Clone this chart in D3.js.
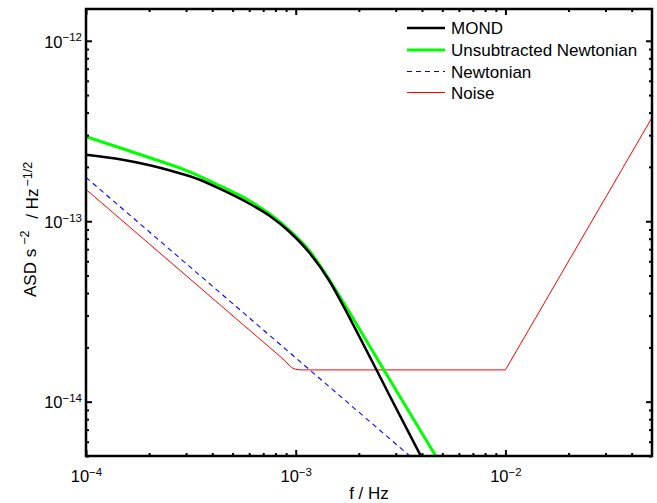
<!DOCTYPE html>
<html>
<head>
<meta charset="utf-8">
<script src="https://cdn.jsdelivr.net/npm/d3@7"></script>
<style>
  body { margin: 0; background: #fff; }
  text { font-family: "Liberation Sans", Arial, Helvetica, sans-serif; }
</style>
</head>
<body>
<div class="chart_box"></div>
<script>
// frequencies (Hz) and amplitude spectral densities
var mondF   = [1.0e-4, 1.451e-4, 2.015e-4, 2.593e-4, 3.484e-4, 4.338e-4, 6.022e-4, 7.499e-4, 9.333e-4, 1.162e-3, 1.446e-3, 1.704e-3, 1.944e-3, 2.454e-3, 2.790e-3, 3.949e-3];
var mondV   = [2.336e-13, 2.206e-13, 2.042e-13, 1.892e-13, 1.698e-13, 1.514e-13, 1.250e-13, 1.073e-13, 8.745e-14, 6.69e-14, 4.68e-14, 3.318e-14, 2.474e-14, 1.466e-14, 1.093e-14, 5.0e-15];

var unsubF  = [1.0e-4, 1.451e-4, 2.015e-4, 3.022e-4, 4.338e-4, 6.022e-4, 7.499e-4, 9.333e-4, 1.162e-3, 1.446e-3, 1.704e-3, 2.009e-3, 2.612e-3, 2.946e-3, 4.651e-3];
var unsubV  = [2.938e-13, 2.554e-13, 2.248e-13, 1.905e-13, 1.573e-13, 1.299e-13, 1.100e-13, 8.915e-14, 6.86e-14, 4.74e-14, 3.49e-14, 2.537e-14, 1.523e-14, 1.205e-14, 5.0e-15];

var newtF   = [1.0e-4, 1.0e-3, 3.5e-3];
var newtV   = [1.75e-13, 1.75e-14, 5.0e-15];

var noiseF  = [1.0e-4, 8.5e-4, 9.0e-4, 9.4e-4, 9.7e-4, 1.0e-3, 1.05e-3, 1.0e-2, 5.0e-2];
var noiseV  = [1.5e-13, 1.765e-14, 1.655e-14, 1.575e-14, 1.53e-14, 1.51e-14, 1.5e-14, 1.5e-14, 3.75e-13];

var seriesNames = ["MOND", "Unsubtracted Newtonian", "Newtonian", "Noise"];
var xMajor = [-4, -3, -2];        // decade exponents
var yMajor = [-14, -13, -12];

var width = 657, height = 503;
var mLeft = 86, mRight = 652, mTop = 9, mBottom = 456;

var x = d3.scaleLog().domain([1e-4, 5e-2]).range([mLeft, mRight]);
var y = d3.scaleLog().domain([5e-15, 1.5e-12]).range([mBottom, mTop]);

function zip(fs, vs) { return fs.map(function(f, i) { return {f: f, v: vs[i]}; }); }

var series = [
  {name: seriesNames[0], pts: zip(mondF, mondV),   color: "#000000", w: 2.5, dash: null, curve: d3.curveMonotoneX},
  {name: seriesNames[1], pts: zip(unsubF, unsubV), color: "#00ff00", w: 3,   dash: null, curve: d3.curveMonotoneX},
  {name: seriesNames[2], pts: zip(newtF, newtV),   color: "#0000ff", w: 1.1, dash: "5,4", curve: d3.curveLinear},
  {name: seriesNames[3], pts: zip(noiseF, noiseV), color: "#ff0000", w: 1,   dash: null, curve: d3.curveLinear}
];

var svg = d3.select(".chart_box").append("svg")
  .attr("width", width).attr("height", height);

svg.append("defs").append("clipPath").attr("id", "plot")
  .append("rect").attr("x", mLeft).attr("y", mTop)
  .attr("width", mRight - mLeft).attr("height", mBottom - mTop);

// draw back to front: noise, newtonian, unsubtracted, mond
var lines = svg.append("g").attr("clip-path", "url(#plot)");
series.slice().reverse().forEach(function(s) {
  var line = d3.line().x(d => x(d.f)).y(d => y(d.v)).curve(s.curve);
  lines.append("path")
    .attr("d", line(s.pts))
    .attr("fill", "none")
    .attr("stroke", s.color)
    .attr("stroke-width", s.w)
    .attr("stroke-dasharray", s.dash);
});

// minor tick values
function minors(scale) {
  var d = scale.domain(), out = [];
  var lo = Math.floor(Math.log10(d[0])), hi = Math.ceil(Math.log10(d[1]));
  for (var k = lo; k < hi; k++)
    for (var m = 2; m <= 9; m++) {
      var v = m * Math.pow(10, k);
      if (v > d[0] && v < d[1]) out.push(v);
    }
  return out;
}
var xMaj = xMajor.map(e => Math.pow(10, e));
var yMaj = yMajor.map(e => Math.pow(10, e));

function tickGroup(axis, transform) {
  var g = svg.append("g").attr("transform", transform).call(axis);
  g.select(".domain").remove();
  g.selectAll("line").attr("stroke", "#000").attr("stroke-width", 2);
  return g;
}

tickGroup(d3.axisBottom(x).tickValues(minors(x)).tickSize(-3).tickFormat(""), "translate(0," + mBottom + ")");
tickGroup(d3.axisTop(x).tickValues(minors(x)).tickSize(-3).tickFormat(""), "translate(0," + mTop + ")");
tickGroup(d3.axisLeft(y).tickValues(minors(y)).tickSize(-3).tickFormat(""), "translate(" + mLeft + ",0)");
tickGroup(d3.axisRight(y).tickValues(minors(y)).tickSize(-3).tickFormat(""), "translate(" + mRight + ",0)");
tickGroup(d3.axisTop(x).tickValues(xMaj).tickSize(-6).tickFormat(""), "translate(0," + mTop + ")");
tickGroup(d3.axisRight(y).tickValues(yMaj).tickSize(-6).tickFormat(""), "translate(" + mRight + ",0)");

function powLabel(sel, d) {
  var e = Math.round(Math.log10(d));
  sel.text("10");
  sel.append("tspan").attr("dy", "-0.55em").attr("font-size", "11.5px").text("\u2212" + Math.abs(e));
}

var xg = tickGroup(d3.axisBottom(x).tickValues(xMaj).tickSize(-6), "translate(0," + mBottom + ")");
xg.selectAll("text")
  .attr("y", 26).attr("dy", 0)
  .attr("font-size", "16.5px").attr("fill", "#000")
  .each(function(d) { powLabel(d3.select(this), d); });

var yg = tickGroup(d3.axisLeft(y).tickValues(yMaj).tickSize(-6).tickPadding(4), "translate(" + mLeft + ",0)");
yg.selectAll("text")
  .attr("dy", "0.38em")
  .attr("font-size", "16.5px").attr("fill", "#000")
  .each(function(d) { powLabel(d3.select(this), d); });

// box
svg.append("rect")
  .attr("x", mLeft).attr("y", mTop)
  .attr("width", mRight - mLeft).attr("height", mBottom - mTop)
  .attr("fill", "none").attr("stroke", "#000").attr("stroke-width", 2.5);

// axis labels
svg.append("text")
  .attr("x", (mLeft + mRight) / 2).attr("y", 499)
  .attr("text-anchor", "middle").attr("font-size", "17px")
  .text("f / Hz");

var yl = svg.append("text")
  .attr("transform", "translate(36,297) rotate(-90)")
  .attr("text-anchor", "start").attr("font-size", "17px");
yl.append("tspan").text("ASD s");
yl.append("tspan").attr("dx", 4).attr("dy", "-0.55em").attr("font-size", "12.5px").text("\u22122");
yl.append("tspan").attr("dx", 7).attr("dy", "0.55em").text(" / Hz");
yl.append("tspan").attr("dx", 2).attr("dy", "-0.55em").attr("font-size", "12.5px").text("\u22121/2");

// legend
var legend = svg.append("g");
var rowY = [28, 50, 71.5, 92.5];
series.forEach(function(s, i) {
  legend.append("line")
    .attr("x1", 407).attr("x2", 445)
    .attr("y1", rowY[i]).attr("y2", rowY[i])
    .attr("stroke", s.color)
    .attr("stroke-width", s.w)
    .attr("stroke-dasharray", s.dash);
  legend.append("text")
    .attr("x", 451).attr("y", rowY[i]).attr("dy", "0.36em")
    .attr("font-size", "17px")
    .text(s.name);
});
</script>
</body>
</html>
